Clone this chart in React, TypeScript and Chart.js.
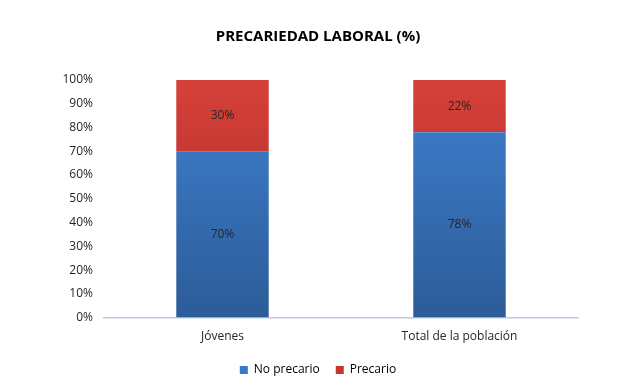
import React, { useEffect, useRef } from "react";
import { Chart, registerables } from "chart.js";

Chart.register(...registerables);

const categories = ["Jóvenes", "Total de la población"];
const noPrecario = [70, 78];
const precario = [30, 22];
const seriesNames = ["No precario", "Precario"];
const titleText = "PRECARIEDAD LABORAL (%)";

const FONT = "'Open Sans', 'Noto Sans', sans-serif";

function gradient(ctx: any, chartArea: any, top: string, bottom: string) {
  if (!chartArea) return top;
  const g = ctx.createLinearGradient(0, chartArea.top, 0, chartArea.bottom);
  g.addColorStop(0, top);
  g.addColorStop(1, bottom);
  return g;
}

const labelPlugin = {
  id: "segLabels",
  afterDatasetsDraw(chart: any) {
    const ctx = chart.ctx;
    ctx.save();
    ctx.font = `12px ${FONT}`;
    ctx.fillStyle = "#262626";
    ctx.textAlign = "center";
    ctx.textBaseline = "middle";
    chart.data.datasets.forEach((ds: any, di: number) => {
      const meta = chart.getDatasetMeta(di);
      meta.data.forEach((bar: any, i: number) => {
        const y = (bar.y + bar.base) / 2;
        ctx.fillText(ds.data[i] + "%", bar.x, y);
      });
    });
    ctx.restore();
  },
};

export default function App() {
  const ref = useRef<HTMLCanvasElement>(null);
  useEffect(() => {
    const chart = new Chart(ref.current!, {
      type: "bar",
      data: {
        labels: categories,
        datasets: [
          {
            label: seriesNames[0],
            data: noPrecario,
            backgroundColor: (c: any) =>
              gradient(c.chart.ctx, c.chart.chartArea, "#3f80d0", "#2c5c98"),
            borderWidth: 0,
          },
          {
            label: seriesNames[1],
            data: precario,
            backgroundColor: (c: any) =>
              gradient(c.chart.ctx, c.chart.chartArea, "#d6403a", "#a52a24"),
            borderWidth: 0,
          },
        ],
      },
      options: {
        animation: false,
        responsive: true,
        maintainAspectRatio: false,
        datasets: { bar: { categoryPercentage: 1, barPercentage: 0.39 } },
        layout: { padding: { left: 58, right: 63, top: 0, bottom: 4 } },
        scales: {
          x: {
            stacked: true,
            grid: { display: false },
            border: { color: "#b9cde5", width: 1.5 },
            ticks: { color: "#262626", font: { family: FONT, size: 12 }, padding: 4 },
          },
          y: {
            stacked: true,
            min: 0,
            max: 100,
            grid: { display: false },
            border: { display: false },
            afterFit: (scale: any) => {
              scale.width = 46;
            },
            ticks: {
              stepSize: 10,
              color: "#262626",
              font: { family: FONT, size: 12 },
              padding: 3,
              callback: (v: any) => v + "%",
            },
          },
        },
        plugins: {
          title: {
            display: true,
            text: titleText,
            color: "#000",
            font: { family: FONT, size: 15, weight: "bold" },
            padding: { top: 28, bottom: 34 },
          },
          legend: {
            position: "bottom",
            labels: {
              color: "#262626",
              font: { family: FONT, size: 12 },
              boxWidth: 8,
              boxHeight: 8,
              padding: 16,
              generateLabels: () => [
                { text: seriesNames[0], fillStyle: "#3a78c8", strokeStyle: "#3a78c8", lineWidth: 0, datasetIndex: 0 },
                { text: seriesNames[1], fillStyle: "#c8342f", strokeStyle: "#c8342f", lineWidth: 0, datasetIndex: 1 },
              ] as any,
            },
          },
          tooltip: { enabled: false },
        },
      },
      plugins: [labelPlugin],
    });
    return () => chart.destroy();
  }, []);
  return (
    <div style={{ position: "fixed", left: 0, top: 0, width: 641, height: 390, background: "#fff" }}>
      <canvas ref={ref} />
    </div>
  );
}
